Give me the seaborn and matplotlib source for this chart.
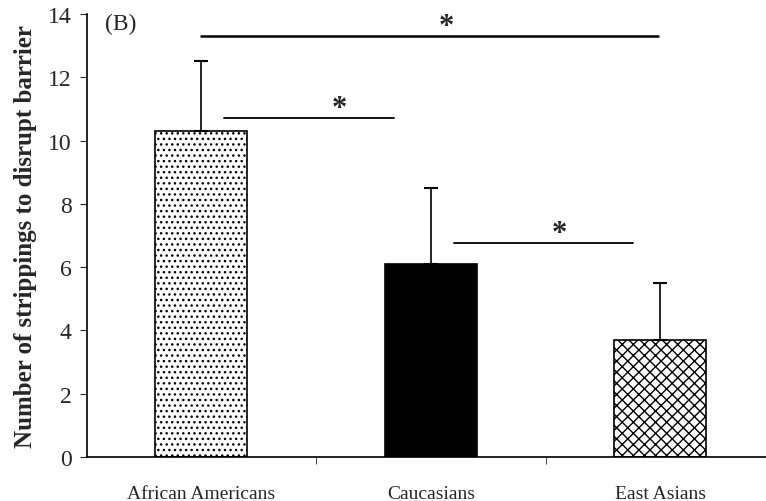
import matplotlib
matplotlib.use('Agg')
import matplotlib.pyplot as plt
import numpy as np
import pandas as pd
import seaborn as sns

groups = ['African Americans', 'Caucasians', 'East Asians']
means = [10.3, 6.1, 3.7]
upper_sd = [2.2, 2.4, 1.8]
hatches = ['...', '', 'xxx']
colors = ['white', 'black', 'white']
# significance bars: (from x, to x, height, star x)
sig_lines = [(0.0, 1.99, 13.3, 1.07), (0.1, 0.84, 10.7, 0.6), (1.1, 1.88, 6.75, 1.56)]

sns.set_style('white')
plt.rcParams['font.family'] = ['Liberation Serif', 'DejaVu Serif']
plt.rcParams['hatch.linewidth'] = 1.0

df = pd.DataFrame({'group': groups, 'value': means})

fig = plt.figure(figsize=(7.66, 5.02), dpi=100)
ax = fig.add_axes([0.1136, 0.0876, 0.8864, 0.8825])

sns.barplot(data=df, x='group', y='value', hue='group', palette=colors,
            width=0.40, edgecolor='black', linewidth=1.2, errorbar=None,
            legend=False, ax=ax)
for bar, h in zip(ax.patches, hatches):
    bar.set_hatch(h)

x = np.arange(len(groups))
ax.errorbar(x, means, yerr=[np.zeros(len(means)), upper_sd], fmt='none',
            ecolor='black', elinewidth=1.2, capsize=5, capthick=1.5, zorder=1)

for x0, x1, yv, xs in sig_lines:
    ax.plot([x0, x1], [yv, yv], color='black', lw=1.8 if yv > 13 else 1.3)
    ax.text(xs, yv - 0.15, '*', ha='center', va='bottom', fontsize=22, fontweight='bold')

ax.text(-0.42, 14.05, '(B)', fontsize=17, va='top', ha='left')

ax.set_xlim(-0.497, 2.46)
ax.set_ylim(0, 14)
ax.set_yticks(range(0, 15, 2))
ax.set_xticks(x)
ax.set_xticks([0.5, 1.5], minor=True)
ax.set_xticklabels(groups, fontsize=14)
ax.tick_params(axis='x', which='major', length=0, pad=20)
ax.tick_params(axis='x', which='minor', length=5, direction='out', bottom=True)
ax.tick_params(axis='y', length=5, direction='out', left=True, labelsize=17, pad=6)
ax.set_xlabel('')
ax.set_ylabel('Number of strippings to disrupt barrier', fontsize=18,
              fontweight='bold', labelpad=8)

for s in ['top', 'right']:
    ax.spines[s].set_visible(False)
for s in ['left', 'bottom']:
    ax.spines[s].set_color('black')
    ax.spines[s].set_linewidth(1.2)

fig.savefig('out.png', dpi=100)
